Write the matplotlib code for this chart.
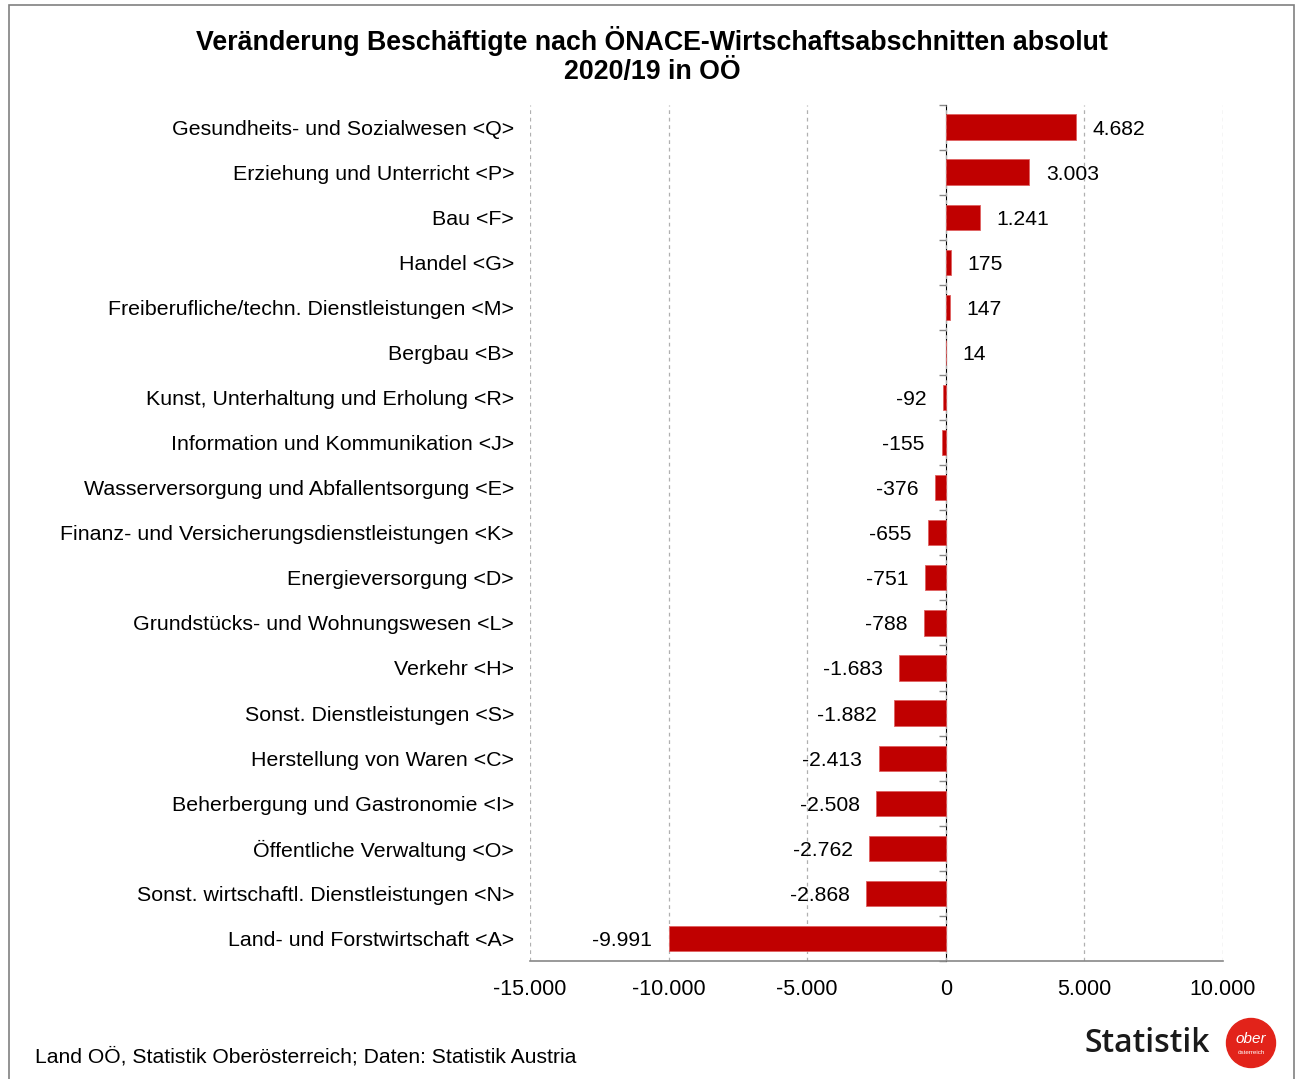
import numpy as np
import matplotlib.pyplot as plt
from matplotlib.patches import Rectangle, Circle

plt.rcParams["font.family"] = ["Liberation Sans", "DejaVu Sans"]

kategorien = [
    "Gesundheits- und Sozialwesen <Q>",
    "Erziehung und Unterricht <P>",
    "Bau <F>",
    "Handel <G>",
    "Freiberufliche/techn. Dienstleistungen <M>",
    "Bergbau <B>",
    "Kunst, Unterhaltung und Erholung <R>",
    "Information und Kommunikation <J>",
    "Wasserversorgung und Abfallentsorgung <E>",
    "Finanz- und Versicherungsdienstleistungen <K>",
    "Energieversorgung <D>",
    "Grundstücks- und Wohnungswesen <L>",
    "Verkehr <H>",
    "Sonst. Dienstleistungen <S>",
    "Herstellung von Waren <C>",
    "Beherbergung und Gastronomie <I>",
    "Öffentliche Verwaltung <O>",
    "Sonst. wirtschaftl. Dienstleistungen <N>",
    "Land- und Forstwirtschaft <A>",
]
veraenderung = [4682, 3003, 1241, 175, 147, 14, -92, -155, -376, -655,
                -751, -788, -1683, -1882, -2413, -2508, -2762, -2868, -9991]
x_ticks = [-15000, -10000, -5000, 0, 5000, 10000]


def fmt(v):
    return f"{v:,.0f}".replace(",", ".")


fig = plt.figure(figsize=(12.95, 10.79), dpi=100)
ax = fig.add_axes([530 / 1295, 118 / 1079, 693 / 1295, 856.5 / 1079])

n = len(kategorien)
y = np.arange(n)
ax.barh(y, veraenderung, height=0.56, color="#C00000", edgecolor="#E06060",
        linewidth=0.6, zorder=3)
ax.set_ylim(n - 0.5, -0.5)
ax.set_xlim(x_ticks[0], x_ticks[-1])

ax.set_yticks(y)
ax.set_yticklabels(kategorien, fontsize=15.4)
ax.tick_params(axis="y", length=0, pad=11.5)
ax.set_xticks(x_ticks)
ax.set_xticklabels([fmt(t) for t in x_ticks], fontsize=15.5)
ax.tick_params(axis="x", length=0, pad=13)

for s in ["top", "right", "left"]:
    ax.spines[s].set_visible(False)
ax.spines["bottom"].set_color("#888888")
ax.spines["bottom"].set_linewidth(1.2)

ax.grid(axis="x", linestyle=(0, (3, 3)), color="#B0B0B0", linewidth=0.9, zorder=0)

# Nulllinie mit Teilstrichen an den Kategoriegrenzen
zero = ax.secondary_yaxis((0 - x_ticks[0]) / (x_ticks[-1] - x_ticks[0]))
zero.set_yticks(np.arange(n + 1) - 0.5)
zero.set_yticklabels([])
zero.tick_params(axis="y", length=5, width=1, color="#888888", direction="in")
zero.spines["left"].set_color("#888888")
zero.spines["left"].set_linewidth(1.2)

for yi, v in zip(y, veraenderung):
    if v >= 0:
        ax.annotate(fmt(v), (v, yi), xytext=(12, 0), textcoords="offset points",
                    ha="left", va="center_baseline", fontsize=15.2)
    else:
        ax.annotate(fmt(v), (v, yi), xytext=(-12, 0), textcoords="offset points",
                    ha="right", va="center_baseline", fontsize=15.2)

fig.text(652 / 1295, 1 - 41 / 1079,
         "Veränderung Beschäftigte nach ÖNACE-Wirtschaftsabschnitten absolut",
         ha="center", va="center", fontsize=19.3, fontweight="bold")
fig.text(652 / 1295, 1 - 72 / 1079, "2020/19 in OÖ",
         ha="center", va="center", fontsize=19.3, fontweight="bold")

fig.text(35 / 1295, 1 - 1057 / 1079,
         "Land OÖ, Statistik Oberösterreich; Daten: Statistik Austria",
         ha="left", va="center", fontsize=15.2)

# Logo
fig.text(1210 / 1295, 1 - 1044 / 1079, "Statistik", ha="right", va="center",
         fontsize=23, fontweight=600, color="#1A1A1A", family=["Open Sans", "DejaVu Sans"])
fig.patches.append(Circle((1251 / 100, (1079 - 1043) / 100), 0.245,
                          transform=fig.dpi_scale_trans, color="#E2231A"))
fig.text(1251 / 1295, 1 - 1039 / 1079, "ober", ha="center", va="center",
         fontsize=11, color="white", style="italic")
fig.text(1251 / 1295, 1 - 1053 / 1079, "österreich", ha="center", va="center",
         fontsize=4.5, color="white")

# Rahmen
fig.patches.append(Rectangle((9 / 1295, -0.01), (1294 - 9) / 1295, 1 - 5 / 1079 + 0.01,
                             transform=fig.transFigure, fill=False,
                             edgecolor="#808080", linewidth=1.2))

fig.savefig("out.png", dpi=100)
